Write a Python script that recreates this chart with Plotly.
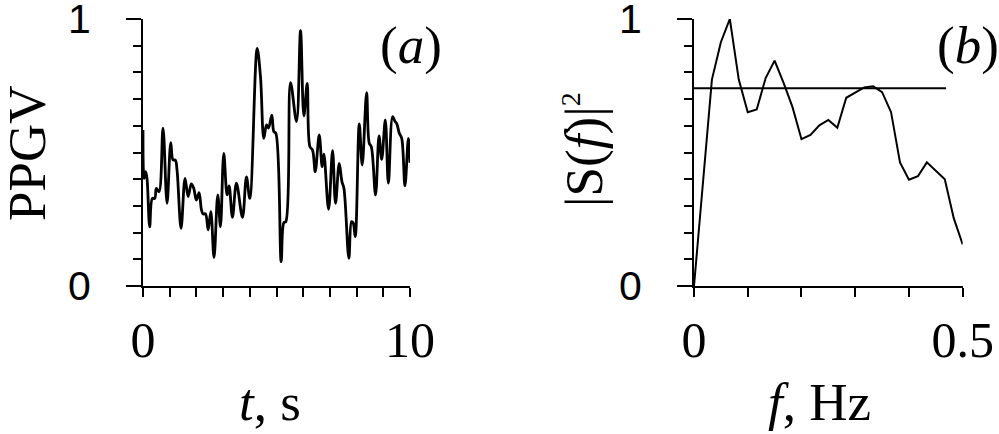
import plotly.graph_objects as go

# panel (a): PPGV signal
t_sec = [0.0, 0.04, 0.10, 0.15, 0.25, 0.35, 0.44, 0.50, 0.60, 0.75, 0.90, 1.04, 1.125, 1.21,
         1.275, 1.425, 1.575, 1.69, 1.81, 1.90, 2.00, 2.10, 2.19, 2.25, 2.34, 2.44, 2.54,
         2.66, 2.80, 2.90, 3.025, 3.15, 3.225, 3.35, 3.50, 3.725, 3.875, 4.00, 4.275, 4.40,
         4.525, 4.625, 4.70, 4.825, 4.90, 4.975, 5.175, 5.275, 5.35, 5.525, 5.75, 5.90,
         6.025, 6.15, 6.25, 6.35, 6.45, 6.60, 6.71, 6.775, 6.95, 7.10, 7.21, 7.35, 7.45,
         7.525, 7.71, 7.81, 7.875, 7.95, 8.10, 8.21, 8.375, 8.475, 8.55, 8.71, 8.84, 8.94,
         9.075, 9.19, 9.35, 9.44, 9.50, 9.60, 9.69, 9.81, 9.94, 10.0]
ppgv = [0.584, 0.403, 0.428, 0.403, 0.222, 0.328, 0.328, 0.366, 0.353, 0.591, 0.310, 0.537,
        0.472, 0.472, 0.434, 0.216, 0.403, 0.335, 0.382, 0.366, 0.322, 0.350, 0.285, 0.270,
        0.270, 0.210, 0.278, 0.107, 0.341, 0.222, 0.497, 0.341, 0.375, 0.257, 0.385, 0.257,
        0.409, 0.328, 0.890, 0.784, 0.553, 0.603, 0.591, 0.640, 0.578, 0.572, 0.091, 0.237,
        0.241, 0.762, 0.616, 0.956, 0.637, 0.759, 0.522, 0.509, 0.428, 0.566, 0.447, 0.494,
        0.287, 0.507, 0.310, 0.459, 0.391, 0.366, 0.104, 0.241, 0.235, 0.185, 0.607, 0.453,
        0.724, 0.534, 0.522, 0.341, 0.562, 0.474, 0.622, 0.385, 0.634, 0.616, 0.609, 0.572,
        0.553, 0.375, 0.553, 0.462]

# panel (b): normalised power spectrum
freq_hz = [0.0, 0.0167, 0.0333, 0.05, 0.0667, 0.0833, 0.1, 0.1167, 0.1333, 0.15, 0.1667,
           0.1833, 0.2, 0.2167, 0.2333, 0.25, 0.2667, 0.2833, 0.3, 0.3167, 0.3333, 0.35,
           0.3667, 0.3833, 0.4, 0.4167, 0.4333, 0.45, 0.4667, 0.4833, 0.5]
power = [0.0, 0.40, 0.773, 0.913, 1.0, 0.773, 0.651, 0.661, 0.779, 0.844, 0.761, 0.67,
         0.55, 0.566, 0.602, 0.622, 0.593, 0.705, 0.726, 0.744, 0.748, 0.726, 0.651, 0.463,
         0.398, 0.411, 0.463, 0.432, 0.40, 0.254, 0.156]
level_f = [0.0, 0.469]
level_power = [0.741, 0.741]

W, H = 999, 434
SERIF = "Liberation Serif"
SANS = "Liberation Sans"

fig = go.Figure()
fig.add_trace(go.Scatter(x=t_sec, y=ppgv, mode="lines", xaxis="x", yaxis="y",
                         line=dict(color="black", width=2.8, shape="spline", smoothing=1.0)))
fig.add_trace(go.Scatter(x=freq_hz, y=power, mode="lines", xaxis="x2", yaxis="y2",
                         line=dict(color="black", width=2)))
fig.add_trace(go.Scatter(x=level_f, y=level_power, mode="lines", xaxis="x2", yaxis="y2",
                         line=dict(color="black", width=2)))

y_dom = [(H - 286) / H, (H - 19) / H]


def xaxis_style(domain, rng, dtick, labels):
    return dict(domain=domain, range=rng, showgrid=False, zeroline=False,
                showline=True, linecolor="black", linewidth=2,
                tickmode="array", tickvals=rng, ticktext=labels,
                ticks="outside", ticklen=9, tickwidth=2, tickcolor="black",
                minor=dict(dtick=dtick, tick0=0, ticks="outside", ticklen=9,
                           tickwidth=2, tickcolor="black"),
                tickfont=dict(family=SERIF, size=50, color="black"),
                ticklabelstandoff=0, ticklabeloverflow="allow",
                automargin=False, fixedrange=True)


def yaxis_style(anchor):
    return dict(domain=y_dom, range=[0, 1], anchor=anchor, showgrid=False, zeroline=False,
                showline=True, linecolor="black", linewidth=2,
                tickmode="array", tickvals=[0, 1], ticktext=["0", "1"],
                ticks="outside", ticklen=15, tickwidth=2, tickcolor="black",
                minor=dict(dtick=0.1, tick0=0, ticks="outside", ticklen=8,
                           tickwidth=2, tickcolor="black"),
                tickfont=dict(family=SANS, size=41, color="black"),
                ticklabelstandoff=27, ticklabeloverflow="allow",
                automargin=False, fixedrange=True)


fig.update_layout(
    width=W, height=H, autosize=False,
    margin=dict(l=0, r=0, t=0, b=0),
    paper_bgcolor="white", plot_bgcolor="white",
    showlegend=False,
    xaxis=xaxis_style([143 / W, 410 / W], [0, 10], 1, ["0", "10"]) | dict(anchor="y"),
    yaxis=yaxis_style("x"),
    xaxis2=xaxis_style([694 / W, 962.7 / W], [0, 0.5], 0.1, ["0", "0.5"]) | dict(anchor="y2"),
    yaxis2=yaxis_style("x2"),
)

txt = dict(family=SERIF, size=53, color="black")
notes = [
    ("PPGV", 27, 153, -90),
    ("|S(<i>f</i>)|<sup><span style='font-size:28px'>2</span></sup>", 585, 150, -90),
    ("<i>t</i>, s", 270, 402, 0),
    ("<i>f</i>, Hz", 819, 402, 0),
    ("(<i>a</i>)", 411, 46, 0),
    ("(<i>b</i>)", 968, 46, 0),
]
for text, px, py, ang in notes:
    fig.add_annotation(text=text, x=px / W, y=1 - py / H, xref="paper", yref="paper",
                       showarrow=False, textangle=ang, font=txt,
                       xanchor="center", yanchor="middle")

# drop the browser's default body margin so the figure sits at the window corner
fig.write_html("out.html", config={"displayModeBar": False},
               post_script="document.body.style.margin='0';")
